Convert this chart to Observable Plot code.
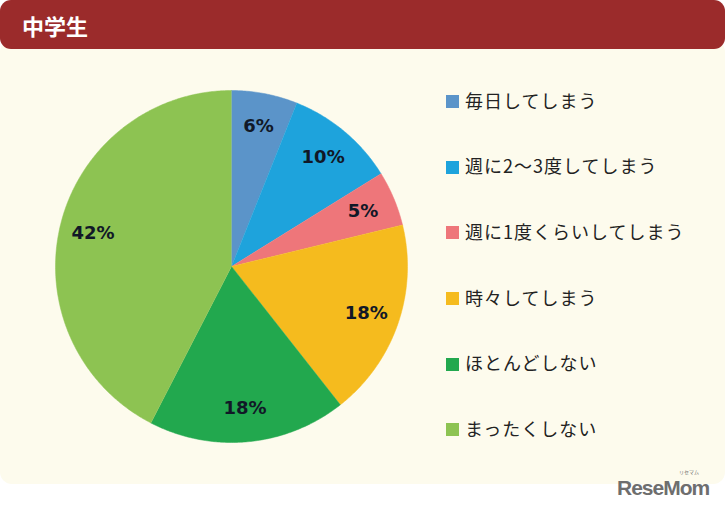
<!DOCTYPE html>
<html>
<head>
<meta charset="utf-8">
<script src="https://cdn.jsdelivr.net/npm/d3@7"></script>
<script src="https://cdn.jsdelivr.net/npm/@observablehq/plot@0.6"></script>
<style>
  html, body { margin: 0; padding: 0; background: #ffffff; }
  #card { position: relative; width: 727px; height: 509px; overflow: hidden; }
  #panel { position: absolute; left: 0; top: 40px; width: 725px; height: 444px; background: #fdfbed; border-radius: 12px; }
  #header { position: absolute; left: 0; top: 0; width: 725px; height: 49px; background: #9b2b2b; border-radius: 11px; }
  #title { position: absolute; left: 22px; top: 9px; color: #ffffff; font: bold 22px "Noto Sans CJK JP", sans-serif; }
  #chart { position: absolute; left: 0; top: 50px; }
  #legend { position: absolute; left: 446px; top: 67px; }
  .row { height: 65.6px; display: flex; align-items: center; font: 18px "Noto Sans CJK JP", sans-serif; letter-spacing: 1px; color: #222; }
  .sw { width: 13px; height: 13px; margin-right: 6px; margin-top: 4px; flex: none; }
  #logo { position: absolute; left: 617px; top: 476px; font: bold 21px/24px "Liberation Sans", Arial, sans-serif; color: #6e6e6e; letter-spacing: -1px; }
  #logo small { position: absolute; left: 62px; top: -7px; font: 5px/6px "Noto Sans CJK JP", sans-serif; letter-spacing: 0; }
</style>
</head>
<body>
<div id="card">
  <div id="panel"></div>
  <div id="header"><div id="title">中学生</div></div>
  <div id="chart"></div>
  <div id="legend"></div>
  <div id="logo">ReseMom<small>リセマム</small></div>
</div>
<script>
const categories = ["毎日してしまう", "週に2～3度してしまう", "週に1度くらいしてしまう", "時々してしまう", "ほとんどしない", "まったくしない"];
const values = [6, 10, 5, 18, 18, 42];
const colors = ["#5b94c9", "#1ea3dc", "#ee767a", "#f5bb1e", "#22a84e", "#8dc352"];

const arcs = d3.pie().sort(null).value(d => d)(values);

// Polygon points for each slice (unit circle, angle clockwise from 12 o'clock)
const slicePts = [];
arcs.forEach((a, i) => {
  slicePts.push({k: i, x: 0, y: 0});
  const n = Math.max(2, Math.ceil((a.endAngle - a.startAngle) / 0.01));
  for (let j = 0; j <= n; j++) {
    const t = a.startAngle + (a.endAngle - a.startAngle) * j / n;
    slicePts.push({k: i, x: Math.sin(t), y: Math.cos(t)});
  }
});

const labels = arcs.map((a, i) => {
  const m = (a.startAngle + a.endAngle) / 2;
  return {x: 0.81 * Math.sin(m), y: 0.81 * Math.cos(m), text: values[i] + "%"};
});

const cx = 231, cy = 216, r = 176;
const plot = Plot.plot({
  width: 440,
  height: 434,
  margin: 0,
  style: {background: "transparent", overflow: "visible"},
  x: {domain: [-1, 1], range: [cx - r, cx + r], axis: null},
  y: {domain: [-1, 1], range: [cy + r, cy - r], axis: null},
  color: {type: "identity"},
  marks: [
    Plot.line(slicePts, {x: "x", y: "y", z: "k", fill: d => colors[d.k], stroke: d => colors[d.k], strokeWidth: 0.5, curve: "linear"}),
    Plot.text(labels, {x: "x", y: "y", text: "text", fill: "#111827", fontSize: 18, fontWeight: "bold", fontFamily: "DejaVu Sans"})
  ]
});
document.getElementById("chart").appendChild(plot);

const legend = document.getElementById("legend");
categories.forEach((c, i) => {
  const row = document.createElement("div");
  row.className = "row";
  const sw = document.createElement("span");
  sw.className = "sw";
  sw.style.background = colors[i];
  const tx = document.createElement("span");
  tx.textContent = c;
  row.appendChild(sw);
  row.appendChild(tx);
  legend.appendChild(row);
});
</script>
</body>
</html>
